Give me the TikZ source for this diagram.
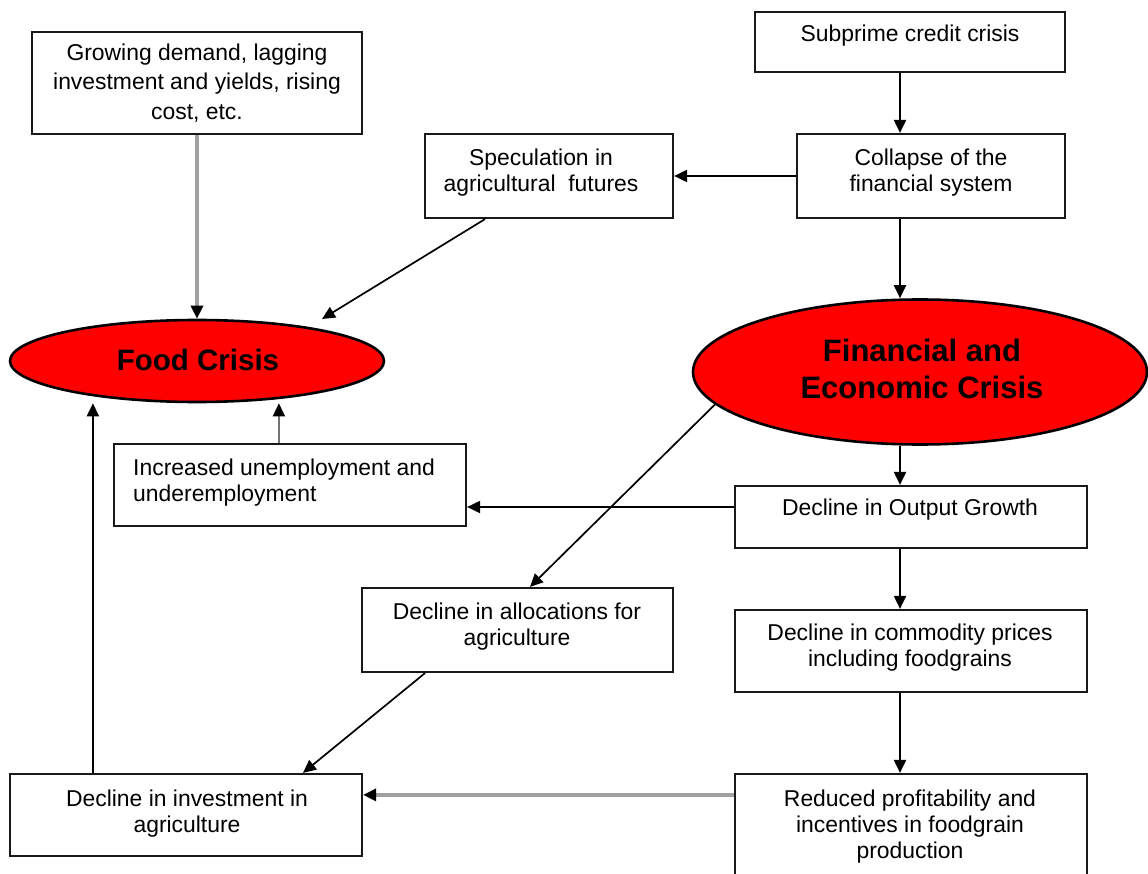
\documentclass[tikz,border=0pt]{standalone}
\usepackage{fontspec}
\setmainfont{Liberation Sans}
\usetikzlibrary{shapes.geometric,arrows.meta,calc}
\definecolor{arrgray}{HTML}{A0A0A0}
\definecolor{crisisred}{HTML}{FF0000}
\tikzset{
  boxnode/.style={draw=black!90,line width=2.2pt,fill=white,inner sep=0pt},
  boxtext/.style={anchor=north,inner sep=0pt,align=center,font=\fontsize{22.9}{26}\selectfont},
  crisis/.style={ellipse,draw=black,line width=2.6pt,fill=crisisred,inner sep=0pt},
  arr/.style={line width=2pt,draw=black,-{Triangle[length=13pt,width=12pt]}},
  garr/.style={line width=3.2pt,draw=arrgray,-{Triangle[length=13pt,width=12pt,color=black]}},
  tarr/.style={line width=1.6pt,draw=black!55,-{Triangle[length=13pt,width=12pt,color=black]}},
}
\begin{document}
\begin{tikzpicture}[x=1pt,y=-1pt]
\useasboundingbox (0,0) rectangle (1148,874);
\fill[white] (0,0) rectangle (1148,874);
% boxes
\node[boxnode,minimum width=330pt,minimum height=102pt] (grow) at (197,83) {};
\node[boxnode,minimum width=310pt,minimum height=60pt] (sub) at (910,42) {};
\node[boxnode,minimum width=248pt,minimum height=84pt] (spec) at (549,176) {};
\node[boxnode,minimum width=268pt,minimum height=84pt] (coll) at (931,176) {};
\node[boxnode,minimum width=352pt,minimum height=82pt] (unemp) at (290,485) {};
\node[boxnode,minimum width=352pt,minimum height=62pt] (out) at (911,517) {};
\node[boxnode,minimum width=311pt,minimum height=84pt] (alloc) at (517.5,630) {};
\node[boxnode,minimum width=352pt,minimum height=82pt] (comm) at (911,651) {};
\node[boxnode,minimum width=352pt,minimum height=82pt] (inv) at (186,815) {};
\node[boxnode,minimum width=352pt,minimum height=130pt] (red) at (911,839) {};
% ellipses
\node[crisis,minimum width=374pt,minimum height=82pt] (food) at (197,361) {};
\node[crisis,minimum width=454pt,minimum height=145pt] (fin) at (920,372) {};
% texts
\node[boxtext,font=\fontsize{22.9}{29.5}\selectfont] (growt) at (197,43.5) {Growing demand, lagging\\investment and yields, rising\\cost, etc.};
\node[boxtext] (subt) at (910,24.5) {Subprime credit crisis};
\node[boxtext] (spect) at (541,148.5) {Speculation in\\agricultural\ \ futures};
\node[boxtext] (collt) at (931,148.5) {Collapse of the\\financial system};
\node[boxtext,anchor=north west,align=left] (unempt) at (133,458.5) {Increased unemployment and\\underemployment};
\node[boxtext] (outt) at (910,498.5) {Decline in Output Growth};
\node[boxtext] (allott) at (517,602.5) {Decline in allocations for\\agriculture};
\node[boxtext] (commt) at (910,623.5) {Decline in commodity prices\\including foodgrains};
\node[boxtext] (invt) at (187,789.5) {Decline in investment in\\agriculture};
\node[boxtext] (redt) at (910,789.5) {Reduced profitability and\\incentives in foodgrain\\production};
\node[font=\fontsize{29.5}{34}\selectfont\bfseries] (foodt) at (198,360) {Food Crisis};
\node[align=center,font=\fontsize{31}{37}\selectfont\bfseries] (fint) at (922,368.5) {Financial and\\Economic Crisis};
% helper coordinates
\coordinate (colx) at (900,0);
\coordinate (specS) at ($(spec.south)+(-64,0)$);
\coordinate (foodTR) at (322,319);
\coordinate (finA) at (fin.189);
\coordinate (allocT) at ($(alloc.north)+(12.5,0)$);
\coordinate (allocS) at ($(alloc.south)+(-92.5,0)$);
\coordinate (invT) at ($(inv.north)+(117,0)$);
\coordinate (outW) at ($(out.west)+(0,-10)$);
\coordinate (redW) at ($(red.north west)+(0,22)$);
\coordinate (unempN) at ($(unemp.north west)+(166,0)$);
\coordinate (invN) at ($(inv.north west)+(84,0)$);
% connectors
\draw[garr] (grow.south) -- (food.north);
\draw[arr,line width=1.7pt] (specS) -- (foodTR);
\draw[arr] (coll.west) -- (spec.east);
\draw[arr] (sub.south -| colx) -- (coll.north -| colx);
\draw[arr] (coll.south -| colx) -- (fin.north -| colx);
\draw[arr] (fin.south -| colx) -- (out.north -| colx);
\draw[arr,line width=1.7pt] (finA) -- (allocT);
\draw[arr] (outW) -- (outW -| unemp.east);
\draw[tarr] (unempN) -- (unempN |- food.south);
\draw[arr] (out.south -| colx) -- (comm.north -| colx);
\draw[arr] (comm.south -| colx) -- (red.north -| colx);
\draw[arr,line width=1.7pt] (allocS) -- (invT);
\draw[garr] (redW) -- (redW -| inv.east);
\draw[arr] (invN) -- (invN |- food.south);
\end{tikzpicture}
\end{document}
